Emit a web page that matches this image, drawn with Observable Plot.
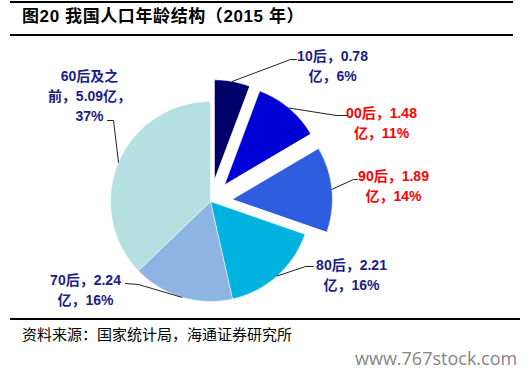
<!DOCTYPE html>
<html><head><meta charset="utf-8">
<script src="https://cdn.jsdelivr.net/npm/d3@7"></script>
<script src="https://cdn.jsdelivr.net/npm/@observablehq/plot@0.6"></script>
<style>
body{margin:0;background:#fff;width:530px;height:373px;position:relative;overflow:hidden;font-family:"Liberation Sans","Noto Sans CJK SC",sans-serif}
.rule{position:absolute;background:#000}
#title{position:absolute;left:22px;top:7px;font-weight:bold;font-size:17px;letter-spacing:0.6px;line-height:20px;font-family:"Liberation Sans","Noto Sans CJK SC",sans-serif;white-space:nowrap;color:#000}
#chart{position:absolute;left:0;top:37px}
#source{position:absolute;left:22px;top:324px;font-size:15px;line-height:20px;font-family:"Noto Sans CJK SC",sans-serif;white-space:nowrap;color:#000}
#wm{position:absolute;left:355px;top:346px;font-size:18px;line-height:24px;font-family:"Open Sans",sans-serif;color:#858585;white-space:nowrap}
</style></head><body>
<div class="rule" style="left:10px;top:1px;width:503px;height:2px"></div>
<div id="title">图20 我国人口年龄结构（2015 年）</div>
<div class="rule" style="left:10px;top:34px;width:503px;height:2px"></div>
<div id="chart"></div>
<div class="rule" style="left:10px;top:318px;width:510px;height:2px"></div>
<div id="source">资料来源：国家统计局，海通证券研究所</div>
<div id="wm">www.767stock.com</div>
<script>
// ---- data ----
const categories = ["10后", "00后", "90后", "80后", "70后", "60后及之前"];
const values = [0.78, 1.48, 1.89, 2.21, 2.24, 5.09];
const shares = ["6%", "11%", "14%", "16%", "16%", "37%"];
const labelTexts = [
  "10后，0.78\n亿，6%",
  "00后，1.48\n亿，11%",
  "90后，1.89\n亿，14%",
  "80后，2.21\n亿，16%",
  "70后，2.24\n亿，16%",
  "60后及之\n前，5.09亿，\n37%"
];

// ---- styling / layout ----
const sliceColors = ["#00006B", "#0000D6", "#2F5DE0", "#00B2E0", "#8DB4E3", "#B6DFE1"];
const labelColors = ["#1C1C8A", "#FF0000", "#FF0000", "#1C1C8A", "#1C1C8A", "#1C1C8A"];
const exploded = [true, true, true, false, false, false];
const R = 100, EXPLODE = 22;
const CX = 210, CY = 164, W = 530, H = 280;
// label centre, leader elbow and leader end, relative to pie centre
const labelPos = [
  {lx: 122, ly: -137, ex: 80, ey: -142, tx: 86, ty: -142},
  {lx: 171, ly: -80, ex: 126, ey: -86, tx: 136, ty: -86},
  {lx: 183, ly: -17, ex: 143, ey: -22, tx: 147, ty: -22},
  {lx: 141, ly: 72, ex: 95, ey: 65, tx: 103, ty: 65},
  {lx: -125, ly: 87, ex: -72, ey: 83, tx: -85, ty: 82},
  {lx: -121, ly: -107, ex: -97, ey: -81, tx: -103, ty: -81}
];

// ---- geometry from data ----
const arcs = d3.pie().sort(null).value(d => d)(values);
const slicePts = [], leaderPts = [], labels = [];
arcs.forEach((p, i) => {
  const cat = categories[i];
  const mid = (p.startAngle + p.endAngle) / 2;
  const off = exploded[i] ? EXPLODE : 0;
  const ox = off * Math.sin(mid), oy = -off * Math.cos(mid);
  slicePts.push({cat, x: ox, y: oy});
  const n = Math.max(4, Math.ceil((p.endAngle - p.startAngle) / 0.01));
  for (let k = 0; k <= n; k++) {
    const a = p.startAngle + (p.endAngle - p.startAngle) * k / n;
    slicePts.push({cat, x: ox + R * Math.sin(a), y: oy - R * Math.cos(a)});
  }
  const L = labelPos[i];
  leaderPts.push({cat, x: ox + R * Math.sin(mid), y: oy - R * Math.cos(mid)});
  leaderPts.push({cat, x: L.ex, y: L.ey});
  leaderPts.push({cat, x: L.tx, y: L.ty});
  labels.push({cat, x: L.lx, y: L.ly, text: labelTexts[i], color: labelColors[i]});
});

const chart = Plot.plot({
  width: W, height: H, margin: 0,
  x: {domain: [-CX, W - CX], range: [0, W], axis: null},
  y: {domain: [-CY, H - CY], range: [0, H], axis: null},
  color: {domain: categories, range: sliceColors},
  style: {background: "transparent", overflow: "visible"},
  marks: [
    Plot.line(slicePts, {x: "x", y: "y", z: "cat", fill: "cat", stroke: "#fff", strokeWidth: 0.6, curve: "linear-closed"}),
    Plot.line(leaderPts, {x: "x", y: "y", z: "cat", stroke: "#222", strokeWidth: 1}),
    Plot.text(labels, {x: "x", y: "y", text: "text", fill: d => d.color, textAnchor: "middle", lineAnchor: "middle",
      lineHeight: 1.45, fontSize: 14, fontWeight: "bold", fontFamily: "Liberation Sans, Noto Sans CJK SC, sans-serif"})
  ]
});
document.getElementById("chart").appendChild(chart);
</script>
</body></html>
